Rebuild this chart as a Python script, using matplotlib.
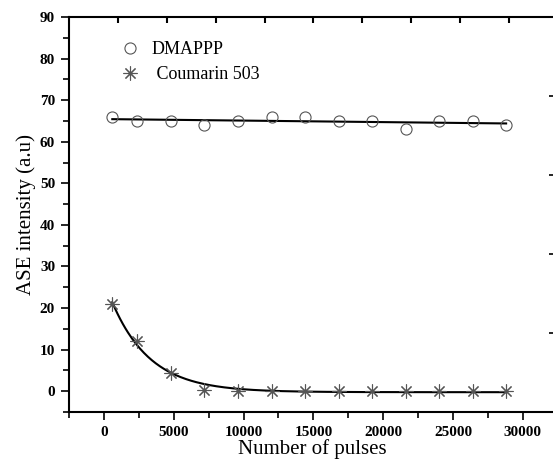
import numpy as np
import matplotlib.pyplot as plt

plt.rcParams['font.family'] = ['Liberation Serif', 'DejaVu Serif']

pulses = [600, 2400, 4800, 7200, 9600, 12000, 14400, 16800, 19200, 21600, 24000, 26400, 28800]
dmappp = [66, 65, 65, 64, 65, 66, 66, 65, 65, 63, 65, 65, 64]
coumarin = [21, 12, 4.5, 0.3, 0, 0, 0, 0, 0, 0, 0, 0, 0]
top_ticks = [1000, 4500, 8000, 11500, 15000, 18500, 22000, 25500, 29000]
right_ticks = [14, 33, 52, 71]

x = np.array(pulses, dtype=float)
xfit = np.linspace(x.min(), x.max(), 300)

# linear fit for DMAPPP
k, b = np.polyfit(x, dmappp, 1)
yfit_d = k * xfit + b

# exponential decay fit for Coumarin 503: y = y0 + A*exp(-x/t)
best = None
for t in np.linspace(1000, 8000, 701):
    M = np.column_stack([np.ones_like(x), np.exp(-x / t)])
    coef, res, _, _ = np.linalg.lstsq(M, np.array(coumarin), rcond=None)
    err = np.sum((M @ coef - coumarin) ** 2)
    if best is None or err < best[0]:
        best = (err, t, coef)
_, t, coef = best
yfit_c = coef[0] + coef[1] * np.exp(-xfit / t)

fig = plt.figure(figsize=(5.53, 4.61), dpi=100)
ax = fig.add_axes([69 / 553, 49 / 461, 486 / 553, 395 / 461])

mc = '#555555'
ax.plot(xfit, yfit_d, color='black', lw=1.5)
ax.plot(xfit, yfit_c, color='black', lw=1.5)
ax.plot(pulses, dmappp, ls='none', marker='o', ms=8, mfc='none', mec=mc, mew=0.8)
ax.plot(pulses, coumarin, ls='none', marker=(8, 2, 0), ms=10, mec=mc, mew=0.8)

ax.set_xlim(-2500, 32300)
ax.set_ylim(-5, 90)
ax.set_xticks(range(0, 30001, 5000))
ax.set_xticks(range(-2500, 32300, 2500), minor=True)
ax.set_yticks(range(0, 91, 10))
ax.set_yticks(range(-5, 91, 5), minor=True)
for lab in ax.get_xticklabels() + ax.get_yticklabels():
    lab.set_fontweight('bold')
ax.tick_params(axis='both', which='major', direction='out', length=6, width=1.2, labelsize=11)
ax.tick_params(axis='both', which='minor', direction='out', length=4, width=1.2)
ax.tick_params(axis='x', pad=4)
ax.tick_params(axis='y', pad=4)
for s in ['left', 'bottom', 'top']:
    ax.spines[s].set_linewidth(1.5)
ax.spines['right'].set_visible(False)

# short inward marks along the top and right edges
ax.vlines(top_ticks, 90 - 1.4, 90, transform=ax.transData, color='black', lw=1.5, clip_on=False)
ax.hlines(right_ticks, 31900, 32300, color='black', lw=1.2, clip_on=False)

ax.set_xlabel('Number of pulses', fontsize=15, labelpad=0)
ax.set_ylabel('ASE intensity (a.u)', fontsize=15, labelpad=3)

ax.plot([], [], ls='none', marker='o', ms=8, mfc='none', mec=mc, mew=0.8, label='DMAPPP')
ax.plot([], [], ls='none', marker=(8, 2, 0), ms=10, mec=mc, mew=0.8, label=' Coumarin 503')
handles, labels = ax.get_legend_handles_labels()
ax.legend(handles[-2:], labels[-2:], loc='upper left', bbox_to_anchor=(0.07, 0.98),
          frameon=False, fontsize=13, handletextpad=0.6, labelspacing=0.45, handlelength=1.2)

fig.savefig('out.png', dpi=100)
